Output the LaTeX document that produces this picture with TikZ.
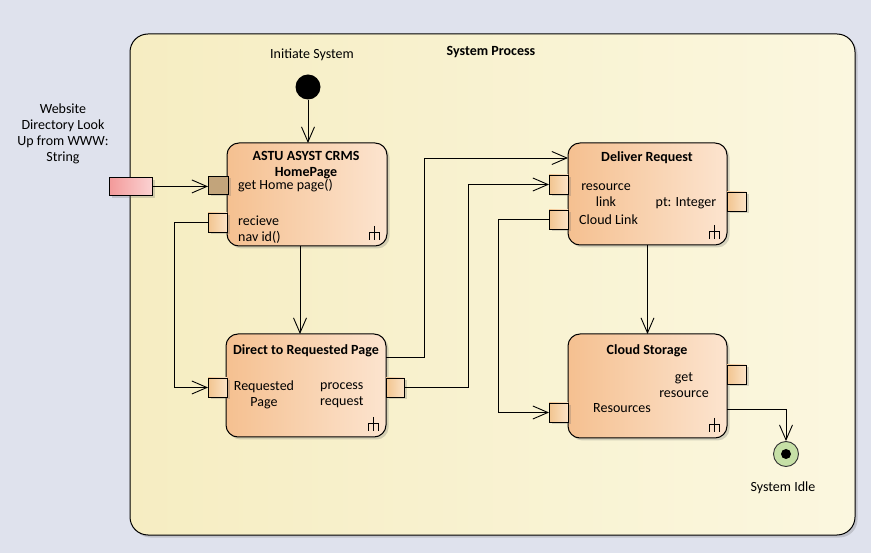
\documentclass[tikz,border=0pt]{standalone}
\usepackage{fontspec}
\setmainfont{Carlito}
\usetikzlibrary{arrows.meta,shadows,calc}
\definecolor{bgc}{HTML}{DFE2ED}
\definecolor{frameL}{HTML}{F6EDC2}
\definecolor{frameR}{HTML}{FBF7DF}
\definecolor{actL}{HTML}{F5C090}
\definecolor{actR}{HTML}{FCE4CF}
\definecolor{pinL}{HTML}{F2C48F}
\definecolor{pinR}{HTML}{FBE3C6}
\definecolor{pinDark}{HTML}{C2A47B}
\definecolor{extL}{HTML}{F39A9A}
\definecolor{extR}{HTML}{FBD3D3}
\definecolor{finalG}{HTML}{C6E0A6}
\begin{document}
\begin{tikzpicture}[x=1pt,y=-1pt,
  font=\fontsize{14}{16}\selectfont,
  arr/.style={-{Straight Barb[length=15pt,width=13pt]}, line width=0.9pt},
  shad/.style={drop shadow={shadow xshift=2.5pt,shadow yshift=-2.5pt,opacity=0.25,fill=black!60}},
  act/.style={draw=black, line width=1pt, rounded corners=12pt, left color=actL, right color=actR,
    minimum width=160pt, minimum height=103pt, inner sep=0pt, outer sep=0pt, anchor=north west, shad},
  pinbox/.style={draw=black, line width=0.9pt, left color=pinL, right color=pinR,
    minimum width=19pt, minimum height=19pt, inner sep=0pt, outer sep=0pt, anchor=north west, shad},
  lbl/.style={inner sep=0pt, align=center},
  ttl/.style={inner sep=0pt, align=center, font=\fontsize{14}{16}\selectfont\bfseries},
  forkicon/.pic={\draw[line width=0.9pt] (0,-14) -- (0,0) (-5,0) -- (-5,-8) -- (5,-8) -- (5,0);}
]
% background
\fill[bgc] (0,0) rectangle (871,553);
\useasboundingbox (0,0) rectangle (871,553);

% outer frame
\node[draw=black, line width=1pt, rounded corners=18pt, left color=frameL, right color=frameR,
  minimum width=725pt, minimum height=501pt, inner sep=0pt, outer sep=0pt, anchor=north west, shad]
  (frame) at (130,34) {};
\node[ttl] (frametitle) at (491,52) {System Process};

% initial node
\node[lbl] (inittxt) at (312,55) {Initiate System};
\node[circle, fill=black, minimum size=25pt, inner sep=0pt] (init) at (308,87) {};

% external parameter
\node[lbl] (exttxt) at (63,134) {Website\\Directory Look\\Up from WWW:\\String};
\node[draw=black, line width=0.9pt, left color=extL, right color=extR, minimum width=43pt,
  minimum height=18pt, inner sep=0pt, anchor=north west, shad] (ext) at (109,177) {};

% HomePage activity
\node[act] (home) at (227,143) {};
\node[ttl] (hometitle) at (306,165) {ASTU ASYST CRMS\\HomePage};
\node[draw=black, line width=0.9pt, fill=pinDark, minimum width=20pt, minimum height=18pt,
  inner sep=0pt, outer sep=0pt, anchor=north west, shad] (gethome) at (208,176) {};
\node[lbl, anchor=west] (gethometxt) at (238,186) {get Home page()};
\node[pinbox] (recv) at (208,213) {};
\node[lbl, anchor=west, align=left] (recvtxt) at (238,230) {recieve\\nav id()};
\pic at ($(home.south east)+(-13,-6)$) {forkicon};

% Direct to Requested Page activity
\node[act] (direct) at (226,334) {};
\node[ttl] (directtitle) at (306,351) {Direct to Requested Page};
\node[pinbox] (reqp) at (208,378) {};
\node[lbl] (reqptxt) at (264,395) {Requested\\Page};
\node[pinbox, minimum width=18pt] (procp) at (386,378) {};
\node[lbl, align=left, anchor=west] (procptxt) at (320,395) {process\\request};
\pic at ($(direct.south east)+(-13,-6)$) {forkicon};

% Deliver Request activity
\node[act, minimum width=159pt, minimum height=102pt] (deliver) at (568,143) {};
\node[ttl] (delivertitle) at (647,158) {Deliver Request};
\node[pinbox] (reslink) at (549,175) {};
\node[lbl] (reslinktxt) at (606,195) {resource\\link};
\node[pinbox] (cloudlink) at (549,210) {};
\node[lbl, anchor=west] (cloudlinktxt) at (579,220) {Cloud Link};
\node[lbl] (pttxt) at (686,203) {pt: Integer};
\node[pinbox] (ptpin) at (727,192) {};
\pic at ($(deliver.south east)+(-13,-6)$) {forkicon};

% Cloud Storage activity
\node[act, minimum width=159pt, minimum height=104pt] (cloud) at (568,334) {};
\node[ttl] (cloudtitle) at (647,351) {Cloud Storage};
\node[pinbox] (respin) at (549,403) {};
\node[lbl] (restxt) at (622,408) {Resources};
\node[lbl] (getrestxt) at (684,385) {get\\resource};
\node[pinbox] (getrespin) at (727,365) {};
\pic at ($(cloud.south east)+(-13,-6)$) {forkicon};

% final node
\node[circle, draw=black!80, line width=0.9pt, fill=finalG, minimum size=25pt, inner sep=0pt] (final) at (786,454) {};
\node[circle, fill=black, minimum size=10pt, inner sep=0pt] (finaldot) at (final.center) {};
\node[lbl] (finaltxt) at (783,488) {System Idle};

% connectors
\draw[arr] (init.south) -- (init.south |- home.north);
\draw[arr] (ext.east) -- (ext.east -| gethome.west);
\draw[arr] (recv.west) -- ++(-34,0) |- (reqp.west);
\draw[arr] ($(home.south)+(-7,0)$) -- ($(direct.north)+(-6,0)$);
\draw[arr] ($(direct.north east)+(0,23)$) -- ++(38,0) |- ($(deliver.north west)+(0,15)$);
\draw[arr] (procp.east) -- ++(64,0) |- (reslink.west);
\draw[arr] (cloudlink.west) -- ++(-51,0) |- (respin.west);
\draw[arr] (deliver.south) -- (cloud.north);
\draw[arr] ($(cloud.north east)+(0,75)$) -| (final.north);
\end{tikzpicture}
\end{document}
